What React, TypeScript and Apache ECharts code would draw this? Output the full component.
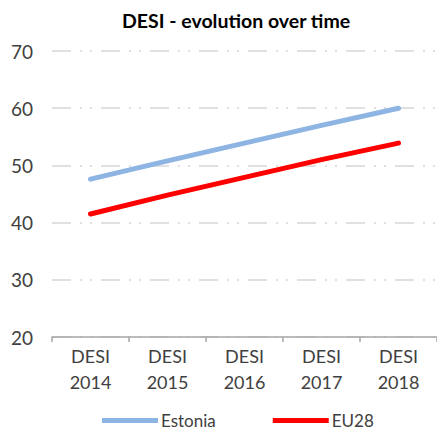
import React, { useEffect, useRef } from "react";
import * as echarts from "echarts";

const categories = ["DESI\n2014", "DESI\n2015", "DESI\n2016", "DESI\n2017", "DESI\n2018"];
const estonia = [47.6, 50.8, 53.9, 57.0, 60.0];
const eu28 = [41.5, 44.8, 47.9, 51.0, 53.9];
const titleText = "DESI - evolution over time";

export default function App() {
  const ref = useRef<HTMLDivElement>(null);
  useEffect(() => {
    const chart = echarts.init(ref.current!, null, { renderer: "svg" });
    const font = "Lato, 'Open Sans', sans-serif";
    chart.setOption({
      animation: false,
      title: {
        text: titleText,
        left: 117,
        top: 5,
        textStyle: { fontFamily: font, fontWeight: "bold", fontSize: 19.5, color: "#000" },
      },
      grid: { left: 52, right: -10, top: 51, bottom: 94 },
      legend: {
        bottom: -3,
        left: 97,
        itemWidth: 56,
        itemHeight: 5,
        itemGap: 57,
        icon: "rect",
        textStyle: { fontFamily: font, fontSize: 17, color: "#404040", padding: [0, 0, 0, -2] },
        data: ["Estonia", "EU28"],
      },
      xAxis: {
        type: "category",
        data: categories,
        boundaryGap: true,
        axisLine: { lineStyle: { color: "#a6a6a6", width: 1.5 } },
        axisTick: { show: true, length: 5, lineStyle: { color: "#a6a6a6", width: 1.5 } },
        axisLabel: { fontFamily: font, fontSize: 18, color: "#404040", lineHeight: 26, margin: 6 },
      },
      yAxis: {
        type: "value",
        min: 20,
        max: 70,
        interval: 10,
        axisLine: { show: false },
        axisTick: { show: false },
        axisLabel: { fontFamily: font, fontSize: 19, color: "#404040", margin: 19 },
        splitLine: {
          lineStyle: { color: "#d6d6d6", width: 1.5, type: [19, 9, 2, 8, 2, 9] },
        },
      },
      series: [
        {
          name: "Estonia",
          type: "line",
          data: estonia,
          symbol: "none",
          lineStyle: { color: "#8db4e2", width: 5, cap: "round" },
          itemStyle: { color: "#8db4e2" },
        },
        {
          name: "EU28",
          type: "line",
          data: eu28,
          symbol: "none",
          lineStyle: { color: "#ff0000", width: 5, cap: "round" },
          itemStyle: { color: "#ff0000" },
        },
      ],
    });
    return () => chart.dispose();
  }, []);
  return (
    <div
      ref={ref}
      style={{ position: "fixed", left: 0, top: 0, width: 437, height: 431, background: "#fff" }}
    />
  );
}
